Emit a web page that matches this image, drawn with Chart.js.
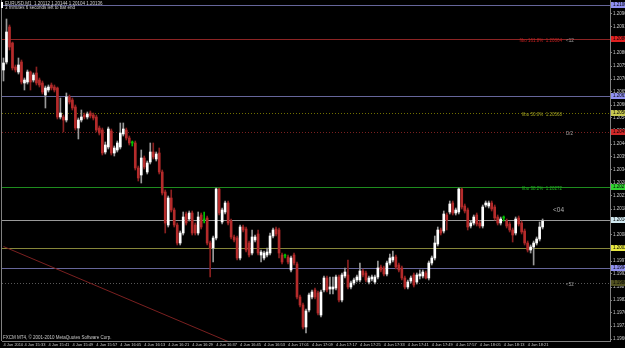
<!DOCTYPE html>
<html>
<head>
<meta charset="utf-8">
<script src="https://cdn.jsdelivr.net/npm/chart.js@4.4.0/dist/chart.umd.min.js"></script>
<style>
  html, body { margin: 0; padding: 0; background: #000; }
  canvas { display: block; }
</style>
</head>
<body>
<canvas id="chart" width="625" height="348"></canvas>
<script>
// EURUSD M1, 4 Jun 2010, first bar 15:26
const opens = [
  1.20740,1.20772,1.20912,1.20848,1.20752,1.20732,1.20772,1.20688,1.20692,1.20732,
  1.20700,1.20728,1.20700,1.20688,1.20640,1.20660,1.20680,1.20672,1.20668,1.20552,
  1.20552,1.20540,1.20632,1.20620,1.20592,1.20508,1.20540,1.20560,1.20552,1.20568,
  1.20560,1.20552,1.20508,1.20500,1.20412,1.20432,1.20496,1.20408,1.20420,1.20432,
  1.20484,1.20500,1.20468,1.20448,1.20448,1.20348,1.20320,1.20388,1.20332,1.20372,
  1.20412,1.20384,1.20408,1.20332,1.20252,1.20120,1.20228,1.20180,1.20120,1.20048,
  1.20088,1.20164,1.20144,1.20168,1.20120,1.20088,1.20160,1.20140,1.20148,1.20048,
  1.20028,1.20068,1.20264,1.20132,1.20172,1.20208,1.20136,1.20072,1.20068,1.19988,
  1.20112,1.20104,1.20048,1.20008,1.20060,1.20084,1.20000,1.19988,1.20000,1.20008,
  1.20076,1.20104,1.20100,1.20000,1.19996,1.19992,1.19940,1.20000,1.19964,1.19832,
  1.19800,1.19712,1.19780,1.19832,1.19860,1.19848,1.19760,1.19860,1.19908,1.19864,
  1.19864,1.19868,1.19912,1.19820,1.19916,1.19920,1.19872,1.19888,1.19900,1.19900,
  1.19936,1.19928,1.19892,1.19904,1.19892,1.19912,1.19952,1.19948,1.19924,1.19968,
  1.19980,1.19992,1.19960,1.19948,1.19908,1.19872,1.19896,1.19920,1.19892,1.19916,
  1.19916,1.19928,1.19908,1.19968,1.19988,1.20044,1.20100,1.20096,1.20160,1.20172,
  1.20208,1.20168,1.20172,1.20264,1.20196,1.20180,1.20116,1.20128,1.20160,1.20128,
  1.20116,1.20200,1.20196,1.20208,1.20192,1.20152,1.20128,1.20148,1.20136,1.20124,
  1.20100,1.20088,1.20148,1.20128,1.20096,1.20048,1.20020,1.20032,1.20048,1.20064,
  1.20112
];
const highs = [
  1.20788,1.20944,1.20920,1.20852,1.20760,1.20788,1.20780,1.20708,1.20740,1.20736,
  1.20728,1.20752,1.20708,1.20696,1.20676,1.20680,1.20688,1.20680,1.20672,1.20628,
  1.20560,1.20648,1.20640,1.20628,1.20600,1.20548,1.20580,1.20568,1.20572,1.20576,
  1.20568,1.20560,1.20516,1.20508,1.20452,1.20512,1.20504,1.20436,1.20456,1.20528,
  1.20528,1.20508,1.20476,1.20456,1.20456,1.20356,1.20420,1.20396,1.20376,1.20448,
  1.20448,1.20412,1.20428,1.20340,1.20260,1.20236,1.20260,1.20188,1.20128,1.20096,
  1.20172,1.20172,1.20176,1.20176,1.20128,1.20172,1.20168,1.20172,1.20156,1.20056,
  1.20076,1.20268,1.20268,1.20188,1.20216,1.20216,1.20144,1.20080,1.20076,1.20120,
  1.20120,1.20112,1.20056,1.20100,1.20080,1.20100,1.20020,1.20016,1.20028,1.20088,
  1.20108,1.20112,1.20108,1.20008,1.20004,1.20000,1.19996,1.20008,1.19972,1.19840,
  1.19808,1.19784,1.19848,1.19860,1.19868,1.19856,1.19860,1.19916,1.19916,1.19912,
  1.19912,1.19920,1.19920,1.19928,1.19948,1.19980,1.19896,1.19908,1.19920,1.19968,
  1.19944,1.19936,1.19916,1.19920,1.19920,1.19976,1.19960,1.19956,1.19976,1.20004,
  1.20016,1.20000,1.19968,1.19956,1.19916,1.19900,1.19916,1.19928,1.19928,1.19940,
  1.19940,1.19936,1.19976,1.19996,1.20076,1.20112,1.20108,1.20176,1.20168,1.20216,
  1.20216,1.20188,1.20268,1.20268,1.20204,1.20188,1.20136,1.20160,1.20168,1.20136,
  1.20200,1.20216,1.20216,1.20216,1.20200,1.20160,1.20152,1.20156,1.20144,1.20132,
  1.20108,1.20152,1.20156,1.20136,1.20104,1.20056,1.20040,1.20056,1.20072,1.20132,
  1.20144
];
const lows = [
  1.20696,1.20764,1.20820,1.20740,1.20732,1.20724,1.20684,1.20660,1.20684,1.20660,
  1.20692,1.20680,1.20672,1.20644,1.20588,1.20652,1.20660,1.20652,1.20544,1.20544,
  1.20492,1.20532,1.20604,1.20580,1.20500,1.20464,1.20532,1.20544,1.20544,1.20548,
  1.20540,1.20492,1.20480,1.20400,1.20404,1.20424,1.20400,1.20396,1.20412,1.20424,
  1.20476,1.20460,1.20440,1.20436,1.20340,1.20296,1.20288,1.20344,1.20324,1.20364,
  1.20384,1.20376,1.20324,1.20240,1.20088,1.20112,1.20172,1.20112,1.20040,1.20040,
  1.20080,1.20120,1.20136,1.20080,1.20080,1.20080,1.20104,1.20128,1.20040,1.19912,
  1.19972,1.20060,1.20160,1.20124,1.20164,1.20120,1.20064,1.20052,1.19980,1.19980,
  1.20092,1.20012,1.19992,1.20000,1.20052,1.20000,1.19972,1.19980,1.19992,1.20000,
  1.20068,1.20076,1.19988,1.19964,1.19988,1.19964,1.19932,1.19960,1.19824,1.19792,
  1.19704,1.19688,1.19772,1.19824,1.19824,1.19760,1.19752,1.19852,1.19852,1.19844,
  1.19844,1.19860,1.19812,1.19812,1.19908,1.19864,1.19864,1.19880,1.19892,1.19892,
  1.19912,1.19892,1.19884,1.19896,1.19884,1.19904,1.19932,1.19916,1.19916,1.19960,
  1.19972,1.19944,1.19932,1.19900,1.19864,1.19864,1.19888,1.19872,1.19884,1.19904,
  1.19908,1.19904,1.19900,1.19960,1.19980,1.20036,1.20080,1.20088,1.20100,1.20164,
  1.20160,1.20160,1.20164,1.20184,1.20168,1.20100,1.20108,1.20120,1.20116,1.20108,
  1.20108,1.20192,1.20188,1.20176,1.20140,1.20120,1.20120,1.20136,1.20108,1.20092,
  1.20052,1.20080,1.20116,1.20084,1.20040,1.20012,1.20008,1.19960,1.20040,1.20056,
  1.20104
];
const closes = [
  1.20768,1.20892,1.20832,1.20748,1.20740,1.20760,1.20692,1.20700,1.20732,1.20692,
  1.20720,1.20688,1.20680,1.20652,1.20668,1.20672,1.20668,1.20660,1.20552,1.20568,
  1.20540,1.20632,1.20612,1.20588,1.20508,1.20540,1.20552,1.20552,1.20564,1.20556,
  1.20548,1.20500,1.20488,1.20408,1.20440,1.20504,1.20408,1.20428,1.20448,1.20488,
  1.20504,1.20468,1.20448,1.20448,1.20348,1.20308,1.20388,1.20352,1.20368,1.20412,
  1.20392,1.20404,1.20332,1.20248,1.20128,1.20228,1.20180,1.20120,1.20048,1.20088,
  1.20152,1.20128,1.20168,1.20088,1.20088,1.20152,1.20112,1.20140,1.20048,1.20028,
  1.20068,1.20264,1.20168,1.20180,1.20208,1.20128,1.20072,1.20060,1.19988,1.20112,
  1.20100,1.20020,1.20000,1.20072,1.20072,1.20008,1.20012,1.20008,1.20012,1.20076,
  1.20100,1.20084,1.20008,1.19972,1.19996,1.19972,1.19988,1.19968,1.19832,1.19800,
  1.19712,1.19776,1.19840,1.19852,1.19832,1.19768,1.19852,1.19908,1.19860,1.19872,
  1.19872,1.19912,1.19820,1.19920,1.19932,1.19872,1.19888,1.19900,1.19912,1.19936,
  1.19920,1.19900,1.19908,1.19912,1.19912,1.19948,1.19940,1.19924,1.19968,1.19988,
  1.19992,1.19952,1.19940,1.19908,1.19872,1.19892,1.19908,1.19880,1.19920,1.19924,
  1.19932,1.19908,1.19968,1.19988,1.20048,1.20100,1.20088,1.20164,1.20140,1.20204,
  1.20168,1.20180,1.20264,1.20192,1.20176,1.20112,1.20128,1.20152,1.20124,1.20116,
  1.20192,1.20208,1.20208,1.20184,1.20148,1.20128,1.20144,1.20148,1.20116,1.20100,
  1.20080,1.20144,1.20124,1.20092,1.20048,1.20020,1.20032,1.20048,1.20064,1.20112,
  1.20136
];

// horizontal levels drawn on the chart
const levelPrices = [1.21000, 1.20864, 1.20636, 1.20568, 1.20492, 1.20272, 1.20140, 1.20028, 1.19948, 1.19888];
const levelNotes  = ['', 'fibo 161.8%  1.20864', '', 'fibo 50.0%  1.20568', '', 'fibo 38.2%  1.20272', '', '', '', ''];
const levelTags   = ['', '<12', '', '', 'D/2', '', '', '', '', '<52'];

// trend line (bar index, price)
const trendIdx = [0, 90];
const trendPrice = [1.20034, 1.19578];

// price axis labels
const yTicks = [1.20964,1.20912,1.20860,1.20808,1.20756,1.20704,1.20652,1.20600,1.20548,1.20496,
  1.20444,1.20392,1.20340,1.20288,1.20236,1.20184,1.20132,1.20080,1.20028,1.19976,
  1.19924,1.19872,1.19820,1.19768,1.19716,1.19664];

const lineColors  = ['#66669a','#8c2424','#66669a','#707000','#7a2020','#1e8c1e','#9a9a9a','#86863a','#66669a','#585858'];
const lineDashed  = [false,false,false,true,true,false,false,false,false,true];
const badgeColors = ['#9090f0','#e02020','#9090f0','#c8c850','#d02828','#30d030','#d0e8f0','#e8e840','#9090f0','#505020'];
const noteColors  = ['','#c02020','','#a0a020','','#20b020','','','',''];

// one slot per minute, with empty room on the right like MT4's chart shift
const categories = [];
for (let i = 0; i < 203; i++) {
  const m = 15 * 60 + 26 + i;
  categories.push(String(Math.floor(m / 60)).padStart(2, '0') + ':' + String(m % 60).padStart(2, '0'));
}

const FONT = '"Liberation Sans Narrow", "Liberation Sans", "DejaVu Sans", sans-serif';

function pick(i, up, down, flat) {
  if (closes[i] > opens[i]) return up;
  if (closes[i] < opens[i]) return down;
  return flat;
}

const overlay = {
  id: 'overlay',
  beforeDatasetsDraw(chart) {
    const { ctx, chartArea: a, scales: { y } } = chart;
    ctx.save();
    ctx.lineWidth = 1;
    levelPrices.forEach((p, i) => {
      const py = Math.round(y.getPixelForValue(p)) + 0.5;
      ctx.strokeStyle = lineColors[i];
      ctx.setLineDash(lineDashed[i] ? [1, 2] : []);
      ctx.beginPath();
      ctx.moveTo(a.left, py);
      ctx.lineTo(a.right, py);
      ctx.stroke();
    });
    ctx.setLineDash([]);
    ctx.strokeStyle = '#808080';
    ctx.beginPath();
    ctx.moveTo(1.5, a.top);
    ctx.lineTo(1.5, a.bottom);
    ctx.stroke();
    ctx.restore();
  },
  afterDraw(chart) {
    const { ctx, chartArea: a, scales: { y } } = chart;
    ctx.save();
    ctx.textBaseline = 'middle';

    // level notes and tags
    levelPrices.forEach((p, i) => {
      const py = y.getPixelForValue(p);
      if (levelNotes[i]) {
        ctx.font = '4.5px ' + FONT;
        ctx.fillStyle = noteColors[i];
        ctx.textAlign = 'right';
        ctx.fillText(levelNotes[i], a.right - 48, py + 2);
      }
      if (levelTags[i]) {
        ctx.font = '4.5px ' + FONT;
        ctx.fillStyle = '#a0a0a0';
        ctx.textAlign = 'left';
        ctx.fillText(levelTags[i], a.right - 44, py + 2);
      }
    });
    ctx.font = '6.5px ' + FONT;
    ctx.fillStyle = '#b0b0b0';
    ctx.textAlign = 'left';
    ctx.fillText('<04', a.right - 57, y.getPixelForValue(1.20140) - 10);

    // price badges on the axis
    ctx.font = '4.5px ' + FONT;
    levelPrices.forEach((p, i) => {
      const py = Math.round(y.getPixelForValue(p));
      ctx.fillStyle = badgeColors[i];
      ctx.fillRect(a.right + 1, py - 3, 20, 6);
      ctx.fillStyle = '#000';
      ctx.fillText(p.toFixed(5), a.right + 3, py);
    });

    // header and footer texts
    const last = closes.length - 1;
    ctx.font = '4.5px ' + FONT;
    ctx.fillStyle = '#d0d0d0';
    ctx.fillText('EURUSD,M1  ' + opens[last].toFixed(5) + ' ' + highs[last].toFixed(5) + ' ' +
      lows[last].toFixed(5) + ' ' + closes[last].toFixed(5), 5, 4);
    ctx.fillText('3 minutes 6 seconds left to bar end', 5, 8);
    ctx.fillStyle = '#ffffff';
    ctx.fillRect(1, 2, 2, 6);
    ctx.fillStyle = '#c8c8c8';
    ctx.fillText('FXCM MT4, \u00a9 2001-2010 MetaQuotes Software Corp.', 3, a.bottom - 3);
    ctx.restore();
  }
};

new Chart(document.getElementById('chart'), {
  type: 'bar',
  data: {
    labels: categories,
    datasets: [
      {
        type: 'line',
        data: trendIdx.map((k, j) => ({ x: categories[k], y: trendPrice[j] })),
        borderColor: '#7a2020',
        borderWidth: 1,
        pointRadius: 0,
        order: 0
      },
      {
        data: closes.map((c, i) => [opens[i], c]),
        backgroundColor: ctx => pick(ctx.dataIndex, '#ffffff', '#b52b2b', '#00c000'),
        barThickness: 2,
        minBarLength: 1,
        grouped: false,
        order: 1
      },
      {
        data: highs.map((h, i) => [lows[i], h]),
        backgroundColor: ctx => pick(ctx.dataIndex, '#9a9a9a', '#8a2020', '#00c000'),
        barThickness: 1,
        grouped: false,
        order: 2
      }
    ]
  },
  options: {
    responsive: false,
    animation: false,
    devicePixelRatio: 1,
    layout: { padding: { left: 2, right: 0, top: 0, bottom: 0 } },
    plugins: { legend: { display: false }, tooltip: { enabled: false } },
    scales: {
      x: {
        type: 'category',
        offset: true,
        grid: { display: false, drawTicks: false },
        border: { display: true, color: '#808080' },
        ticks: {
          autoSkip: false,
          maxRotation: 0,
          minRotation: 0,
          align: 'start',
          padding: 1,
          color: '#c8c8c8',
          font: { size: 4, family: FONT },
          callback: (v, i) => i === 0 ? '4 Jun 2010'
            : (i <= 180 && (i - 7) % 8 === 0 ? '4 Jun ' + categories[i] : '')
        },
        afterFit: s => { s.height = 7; s.paddingLeft = 0; s.paddingRight = 0; }
      },
      y: {
        position: 'right',
        min: 1.19656,
        max: 1.21020,
        grid: { drawOnChartArea: false, drawTicks: true, tickLength: 2, color: '#808080' },
        border: { display: true, color: '#808080' },
        ticks: {
          padding: 1,
          color: '#c8c8c8',
          font: { size: 4.5, family: FONT },
          callback: v => v.toFixed(5)
        },
        afterBuildTicks: s => { s.ticks = yTicks.map(v => ({ value: v })); },
        afterFit: s => { s.width = 15; s.paddingTop = 0; s.paddingBottom = 0; }
      }
    }
  },
  plugins: [overlay]
});
</script>
</body>
</html>
